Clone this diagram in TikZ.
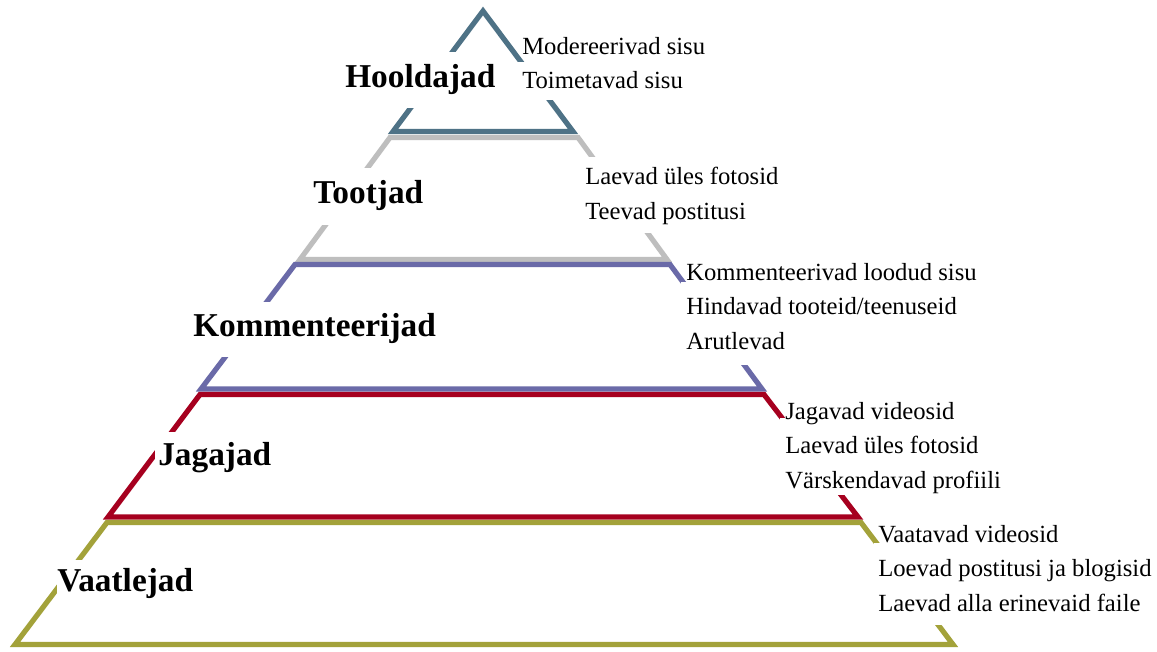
\documentclass[tikz,border=0pt]{standalone}
\usepackage{fontspec}
\setmainfont{Liberation Serif}
\definecolor{cteal}{HTML}{4E7286}
\definecolor{cgrey}{HTML}{BEBEBE}
\definecolor{cpurple}{HTML}{6A6AA8}
\definecolor{cred}{HTML}{A6001F}
\definecolor{colive}{HTML}{A3A23A}
\begin{document}
\begin{tikzpicture}[x=0.75pt,y=-0.75pt,
  edge/.style={line width=3.9pt, line join=miter},
  lbl/.style={inner sep=0pt, anchor=base west, font=\fontsize{25}{30}\selectfont\bfseries},
  desc/.style={inner sep=0pt, anchor=base west, font=\fontsize{18.5}{26}\selectfont},
  gap/.style={fill=white}]
\useasboundingbox (0,0) rectangle (1157,652);
\fill[white] (0,0) rectangle (1157,652);
% pyramid levels
\draw[edge,cteal]   (483,11) -- (573,131.5) -- (393,131.5) -- cycle;
\draw[edge,cgrey]   (390,137.5) -- (578,137.5) -- (667,259.5) -- (300,259.5) -- cycle;
\draw[edge,cpurple] (295,264.5) -- (670,264.5) -- (762,389) -- (201,389) -- cycle;
\draw[edge,cred]    (200,394.5) -- (764,394.5) -- (858,517) -- (108,517) -- cycle;
\draw[edge,colive]  (107,522.5) -- (861,522.5) -- (953,644.5) -- (15,644.5) -- cycle;
% white text boxes that interrupt the sides
\fill[gap] (340,52) rectangle (505,108);
\fill[gap] (517,62) rectangle (720,100);
\fill[gap] (305,168) rectangle (435,225);
\fill[gap] (583,157) rectangle (785,233);
\fill[gap] (188,302) rectangle (445,357);
\fill[gap] (681,282) rectangle (990,365);
\fill[gap] (155,432) rectangle (280,490);
\fill[gap] (780,418) rectangle (1010,495);
\fill[gap] (57,560) rectangle (205,615);
\fill[gap] (874,543) rectangle (1150,625);
% labels
\node[lbl] (hool) at (345,87.3) {Hooldajad};
\node[lbl] (toot) at (313,204) {Tootjad};
\node[lbl] (komm) at (193,336.7) {Kommenteerijad};
\node[lbl] (jaga) at (158,465) {Jagajad};
\node[lbl] (vaat) at (57,591.5) {Vaatlejad};
% descriptions
\node[desc] (h1) at (522,55) {Modereerivad sisu};
\node[desc] (h2) at (522,88.5) {Toimetavad sisu};
\node[desc] (t1) at (585,185) {Laevad üles fotosid};
\node[desc] (t2) at (585,219.3) {Teevad postitusi};
\node[desc] (k1) at (686,280.5) {Kommenteerivad loodud sisu};
\node[desc] (k2) at (686,315) {Hindavad tooteid/teenuseid};
\node[desc] (k3) at (686,349.5) {Arutlevad};
\node[desc] (j1) at (785,419) {Jagavad videosid};
\node[desc] (j2) at (785,453.5) {Laevad üles fotosid};
\node[desc] (j3) at (785,488) {Värskendavad profiili};
\node[desc] (v1) at (878,542) {Vaatavad videosid};
\node[desc] (v2) at (878,576.5) {Loevad postitusi ja blogisid};
\node[desc] (v3) at (878,611) {Laevad alla erinevaid faile};
\end{tikzpicture}
\end{document}
